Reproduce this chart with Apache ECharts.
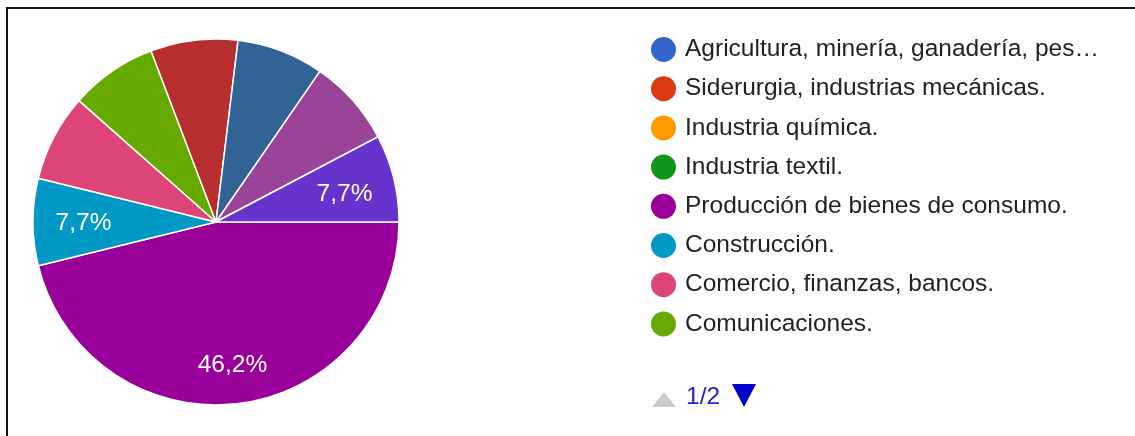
<!DOCTYPE html>
<html>
<head>
<meta charset="utf-8">
<script src="https://cdn.jsdelivr.net/npm/echarts@6/dist/echarts.min.js"></script>
<style>
  html, body { margin: 0; padding: 0; background: #fff; }
  #chart { width: 1135px; height: 436px; }
</style>
</head>
<body>
<div id="chart"></div>
<script>
// Response categories (legend page 1 holds the first eight)
const categories = [
  'Agricultura, minería, ganadería, pesca.',
  'Siderurgia, industrias mecánicas.',
  'Industria química.',
  'Industria textil.',
  'Producción de bienes de consumo.',
  'Construcción.',
  'Comercio, finanzas, bancos.',
  'Comunicaciones.',
  'Sector 9',
  'Sector 10',
  'Sector 11',
  'Sector 12',
  'Sector 13',
  'Sector 14'
];
// Number of responses per category
const responses = [0, 0, 0, 0, 6, 1, 1, 1, 1, 1, 1, 0, 0, 1];
const colors = [
  '#3366cc', '#dc3912', '#ff9900', '#109618', '#990099', '#0099c6', '#dd4477',
  '#66aa00', '#b82e2e', '#316395', '#994499', '#22aa99', '#aaaa11', '#6633cc'
];
// Slices wide enough to carry their percentage label
const labelledSlices = [
  'Producción de bienes de consumo.',
  'Construcción.',
  'Sector 14'
];
const legendPage = '1/2';
const pageSize = 8;
const maxLegendChars = 36;

const FONT = "'Liberation Sans', Arial, sans-serif";
const total = responses.reduce((a, b) => a + b, 0);

const pieData = categories.map((name, i) => ({
  name,
  value: responses[i],
  itemStyle: { color: colors[i] }
}));

const labelData = categories.map((name, i) => ({ name, value: responses[i] }));

// Small nudges so each label sits where its text box is balanced in the slice
const labelNudge = { 4: [0, 8], 5: [4, 1], 13: [-4, 5] };

const chart = echarts.init(document.getElementById('chart'), null, { renderer: 'canvas' });

chart.setOption({
  backgroundColor: '#ffffff',
  animation: false,
  legend: {
    orient: 'vertical',
    left: 651,
    top: 37,
    padding: 0,
    icon: 'circle',
    itemWidth: 25,
    itemHeight: 25,
    itemGap: 14.2,
    selectedMode: false,
    itemStyle: { borderWidth: 0 },
    data: categories.slice(0, pageSize),
    formatter: name => name.length > maxLegendChars
      ? name.slice(0, maxLegendChars) + '…'
      : name,
    textStyle: {
      fontFamily: FONT,
      fontSize: 24.5,
      lineHeight: 25,
      color: '#222222',
      padding: [0, 0, 0, 4]
    }
  },
  series: [
    {
      type: 'pie',
      center: [216, 222],
      radius: [0, 183],
      startAngle: 0,
      clockwise: true,
      silent: true,
      label: { show: false },
      labelLine: { show: false },
      itemStyle: { borderColor: '#ffffff', borderWidth: 1.5 },
      data: pieData
    },
    {
      // Transparent ring carrying the percentage labels further out than mid-radius
      type: 'pie',
      center: [216, 222],
      radius: [84, 183],
      startAngle: 0,
      clockwise: true,
      silent: true,
      legendHoverLink: false,
      itemStyle: { color: 'rgba(0,0,0,0)', borderWidth: 0 },
      labelLine: { show: false },
      label: {
        show: true,
        position: 'inside',
        fontFamily: FONT,
        fontSize: 24.5,
        color: '#ffffff',
        formatter: p => (p.value > 0 && labelledSlices.indexOf(p.name) >= 0)
          ? (p.value / total * 100).toFixed(1).replace('.', ',') + '%'
          : ''
      },
      labelLayout: p => {
        const n = labelNudge[p.dataIndex];
        return n ? { dx: n[0], dy: n[1] } : {};
      },
      data: labelData
    }
  ],
  graphic: [
    {
      type: 'rect',
      shape: { x: 7, y: 8, width: 1200, height: 500 },
      style: { fill: 'none', stroke: '#111111', lineWidth: 2 },
      silent: true
    },
    {
      type: 'polygon',
      shape: { points: [[652, 407], [676, 407], [664, 392]] },
      style: { fill: '#cccccc' },
      silent: true
    },
    {
      type: 'text',
      left: 686,
      top: 385,
      style: {
        text: legendPage,
        fontFamily: FONT,
        fontSize: 24.5,
        fill: '#2424c8'
      },
      silent: true
    },
    {
      type: 'polygon',
      shape: { points: [[732, 384], [756, 384], [744, 407]] },
      style: { fill: '#0000cc' },
      silent: true
    }
  ]
});
</script>
</body>
</html>
